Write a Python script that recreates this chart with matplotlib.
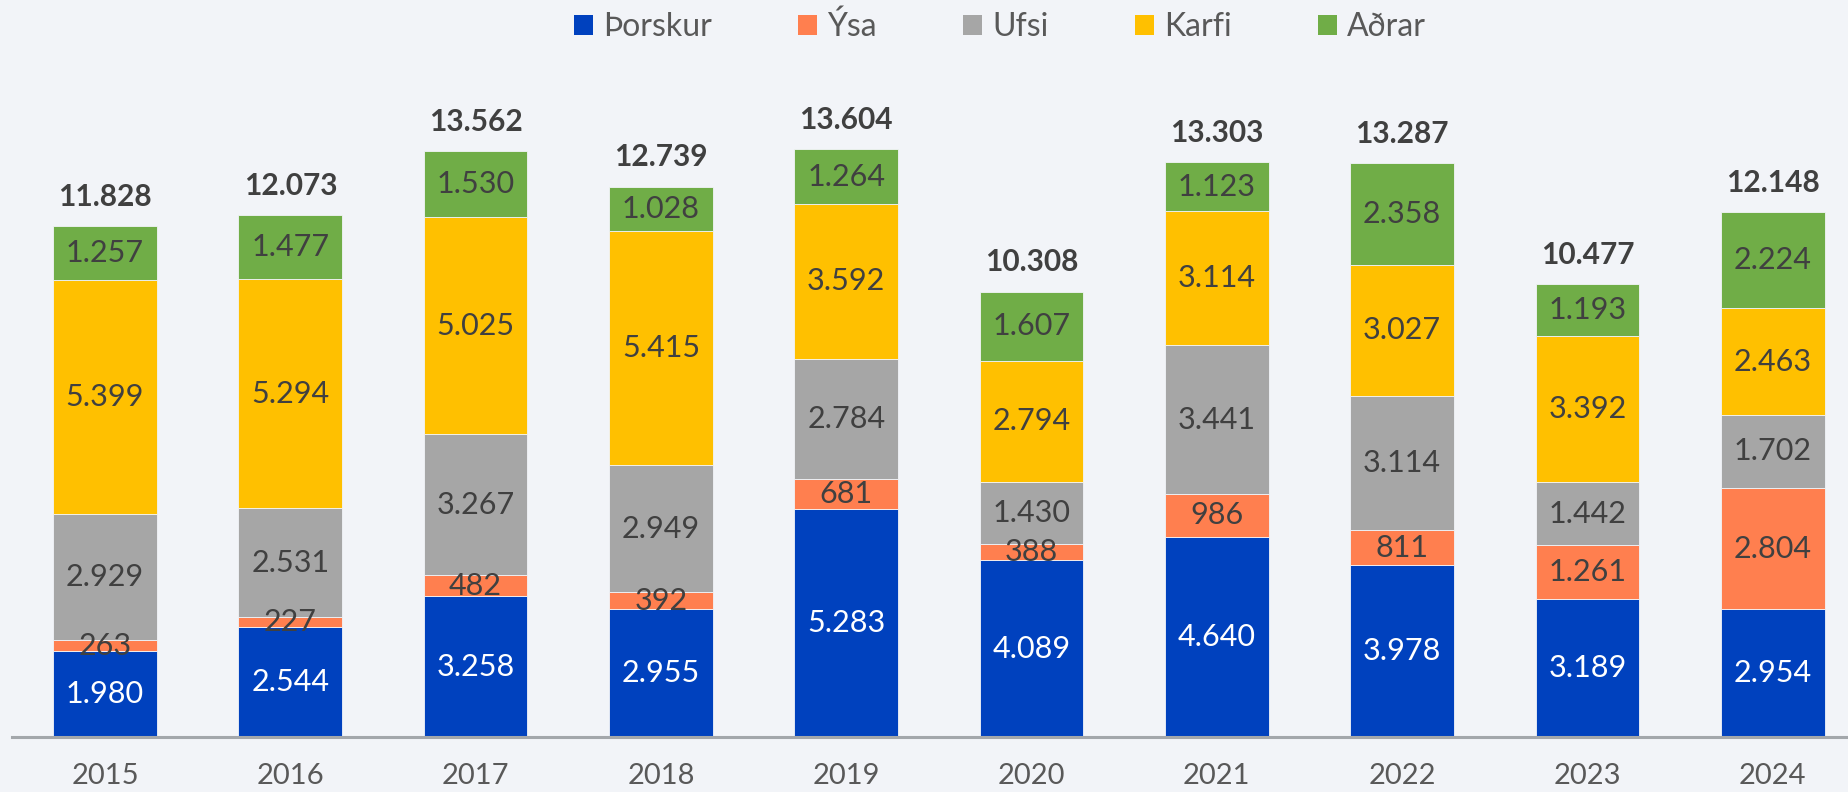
import matplotlib
matplotlib.use("Agg")
import matplotlib.pyplot as plt
from matplotlib.patches import Patch

years = ["2015", "2016", "2017", "2018", "2019", "2020", "2021", "2022", "2023", "2024"]
series_names = ["Þorskur", "Ýsa", "Ufsi", "Karfi", "Aðrar"]
thorskur = [1980, 2544, 3258, 2955, 5283, 4089, 4640, 3978, 3189, 2954]
ysa = [263, 227, 482, 392, 681, 388, 986, 811, 1261, 2804]
ufsi = [2929, 2531, 3267, 2949, 2784, 1430, 3441, 3114, 1442, 1702]
karfi = [5399, 5294, 5025, 5415, 3592, 2794, 3114, 3027, 3392, 2463]
adrar = [1257, 1477, 1530, 1028, 1264, 1607, 1123, 2358, 1193, 2224]
totals = [11828, 12073, 13562, 12739, 13604, 10308, 13303, 13287, 10477, 12148]

colors = ["#0041BE", "#FF7F4F", "#A6A6A6", "#FFC000", "#70AD47"]
text_colors = ["white", "#404040", "#404040", "#404040", "#404040"]
bg = "#F2F4F8"

plt.rcParams['font.family'] = ['Lato', 'DejaVu Sans']

def fmt(v):
    return f"{v:,}".replace(",", ".")

W, H = 1849, 792
fig = plt.figure(figsize=(W / 100, H / 100), dpi=100, facecolor=bg)
base_px = 737
ax = fig.add_axes([0, (H - base_px) / H, 1, base_px / H])
ax.set_facecolor(bg)

c0, step = 105, 185.3
xmin = (0 - c0) / step
xmax = (W - c0) / step
ax.set_xlim(xmin, xmax)
ax.set_ylim(0, base_px / 0.0432)

x = list(range(len(years)))
data = [thorskur, ysa, ufsi, karfi, adrar]
bottom = [0] * len(years)
for vals, col, tcol in zip(data, colors, text_colors):
    ax.bar(x, vals, width=0.56, bottom=bottom, color=col,
           edgecolor=bg, linewidth=0.6, zorder=2)
    for xi, b, v in zip(x, bottom, vals):
        ax.text(xi, b + v / 2, fmt(v), ha='center', va='center',
                fontsize=22, color=tcol, zorder=3)
    bottom = [b + v for b, v in zip(bottom, vals)]

for xi, top, t in zip(x, bottom, totals):
    ax.annotate(fmt(t), (xi, top), xytext=(0, 11), textcoords='offset points',
                ha='center', va='bottom', fontsize=21.5, fontweight='bold',
                color='#404040')

for s in ['top', 'right', 'left']:
    ax.spines[s].set_visible(False)
ax.spines['bottom'].set_color('#A3A7AB')
ax.spines['bottom'].set_linewidth(2.2)
ax.spines['bottom'].set_bounds(-0.5, xmax)
ax.set_yticks([])
ax.set_xticks(x)
ax.set_xticklabels(years, fontsize=21, color='#595959')
ax.tick_params(axis='x', length=0, pad=19)

handles = [Patch(facecolor=c, edgecolor='none', label=n) for n, c in zip(series_names, colors)]
fig.legend(handles=handles, loc='center', bbox_to_anchor=(1000 / W, 1 - 27 / H),
           ncol=5, frameon=False, fontsize=23, labelcolor='#595959',
           handlelength=0.6, handleheight=0.6, handletextpad=0.31,
           columnspacing=2.7, borderpad=0, borderaxespad=0)

fig.savefig("out.png", dpi=100, facecolor=bg)
